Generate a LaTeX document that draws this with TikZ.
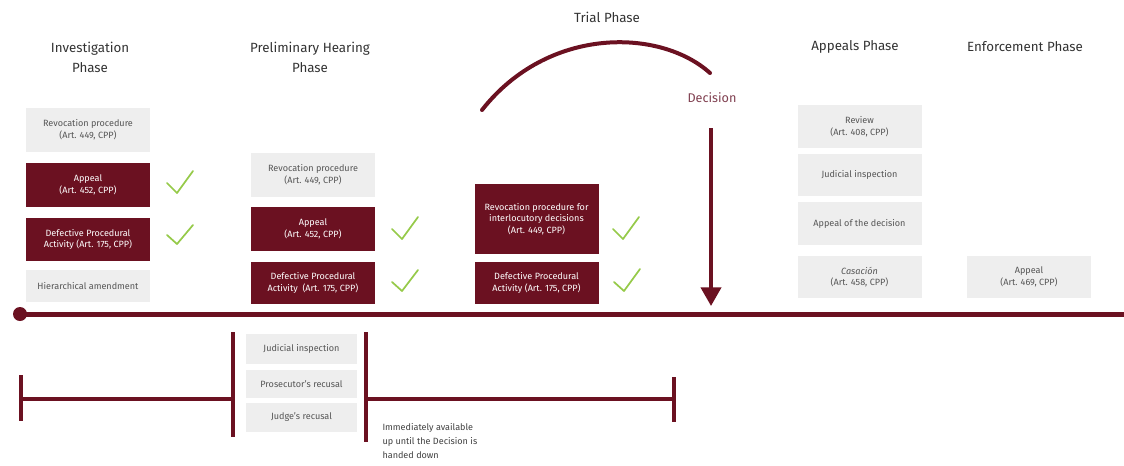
\documentclass[tikz,border=0pt]{standalone}
\usepackage{fontspec}
\setmainfont{Fira Sans}
\usetikzlibrary{arrows.meta}

\definecolor{wine}{RGB}{107,17,33}
\definecolor{boxgray}{RGB}{238,238,238}
\definecolor{okgreen}{RGB}{150,202,74}
\definecolor{txtgray}{RGB}{85,85,85}
\definecolor{decis}{RGB}{128,64,80}

\tikzset{every picture/.style={line width=0.75pt}}
\tikzset{
  lightbox/.style={fill=boxgray, text=txtgray, align=center, inner sep=0.75pt, minimum width=93pt, font=\fontsize{6.8}{8.8}\selectfont},
  darkbox/.style={fill=wine, text=white, align=center, inner sep=0.75pt, minimum width=93pt, font=\fontsize{6.8}{8.8}\selectfont},
  phase/.style={text=black!80, align=center, inner sep=0.75pt, font=\fontsize{10}{15}\selectfont},
  okline/.style={draw=okgreen, line width=1.3pt, line cap=round, line join=round},
  bar/.style={draw=wine, line width=3pt},
}

\begin{document}
\begin{tikzpicture}[x=0.75pt,y=0.75pt,yscale=-1,xscale=1]
\useasboundingbox (0,0) rectangle (1124,465);

% Phase titles
\draw (90,57) node [phase] (invph) {Investigation\\Phase};
\draw (310,57) node [phase] (preph) {Preliminary Hearing\\Phase};
\draw (607,17) node [phase] (triph) {Trial Phase};
\draw (855,47) node [phase] (appph) {Appeals Phase};
\draw (1025,47) node [phase] (enfph) {Enforcement Phase};

% Investigation column
\draw (88,130) node [lightbox, minimum height=33pt] (inrev) {Revocation procedure\\(Art. 449, CPP)};
\draw (88,185) node [darkbox, minimum height=33pt] (inapp) {Appeal\\(Art. 452, CPP)};
\draw (88,239.5) node [darkbox, minimum height=32.25pt] (indef) {Defective Procedural\\Activity (Art. 175, CPP)};
\draw (88,286) node [lightbox, minimum height=24pt] (inhier) {Hierarchical amendment};

% Preliminary hearing column
\draw (313,175) node [lightbox, minimum height=33pt] (prrev) {Revocation procedure\\(Art. 449, CPP)};
\draw (313,229) node [darkbox, minimum height=33pt] (prapp) {Appeal\\(Art. 452, CPP)};
\draw (313,283) node [darkbox, minimum height=31.5pt] (prdef) {Defective Procedural\\Activity\ \ (Art. 175, CPP)};

% Trial column
\draw (536.5,219) node [darkbox, minimum height=52.5pt] (trrev) {Revocation procedure for\\interlocutory decisions\\(Art. 449, CPP)};
\draw (536.5,283) node [darkbox, minimum height=31.5pt] (trdef) {Defective Procedural\\Activity (Art. 175, CPP)};

% Appeals column
\draw (859.5,126.5) node [lightbox, minimum height=32.25pt] (aprev) {Review\\(Art. 408, CPP)};
\draw (859.5,175) node [lightbox, minimum height=31.5pt] (apjud) {Judicial inspection};
\draw (859.5,223.5) node [lightbox, minimum height=32.25pt] (apdec) {Appeal of the decision};
\draw (859.5,277) node [lightbox, minimum height=31.5pt] (apcas) {\textit{Casación}\\(Art. 458, CPP)};

% Enforcement column
\draw (1029,277) node [lightbox, minimum height=31.5pt] (enapp) {Appeal\\(Art. 469, CPP)};

% Check marks
\draw [okline] (167,183) -- (177,193) -- (193,171);
\draw [okline] (167,235) -- (177,244) -- (193,225);
\draw [okline] (392,229) -- (402,239) -- (418,217);
\draw [okline] (392,282) -- (402,291) -- (418,270);
\draw [okline] (613,229) -- (623,239) -- (639,217);
\draw [okline] (614,282) -- (624,291) -- (640,269);

% Trial arc and decision
\draw [wine, line width=3pt, line cap=round] (482,110) .. controls (548,26) and (660,28) .. (710,73);
\draw (712,98) node [text=decis, inner sep=0.75pt, font=\fontsize{9.5}{11}\selectfont] (decision) {Decision};
\coordinate (dtop) at (711,128);
\coordinate (dbot) at (711,306);
\draw [wine, line width=3pt, -{Triangle[width=15pt,length=14pt]}] (dtop) -- (dbot);

% Main timeline
\draw (20,314) node [circle, fill=wine, minimum size=10.5pt, inner sep=0pt] (start) {};
\coordinate (tlend) at (1124,314);
\draw [wine, line width=3.75pt] (start.center) -- (tlend);

% Lower brackets
\coordinate (lb1) at (21,399);
\coordinate (lb2) at (233,399);
\coordinate (lb3) at (366,399);
\coordinate (lb4) at (674,399);
\draw [bar] (lb1) -- (lb2);
\draw [bar] (lb3) -- (lb4);
\draw [bar] (21,375) -- (21,421);
\draw [bar] (233,332) -- (233,437);
\draw [bar] (366,332) -- (366,442);
\draw [bar] (674,377) -- (674,422);

\draw (301.5,349) node [lightbox, minimum width=83.25pt, minimum height=22.5pt] (prjud) {Judicial inspection};
\draw (301.5,384) node [lightbox, minimum width=83.25pt, minimum height=21pt] (prpros) {Prosecutor's recusal};
\draw (301.5,417.5) node [lightbox, minimum width=83.25pt, minimum height=21.75pt] (prjudge) {Judge's recusal};

% Text Node
\draw (381,422) node [anchor=north west, inner sep=0.75pt, align=left, text=black!75, font=\fontsize{6.8}{10.5}\selectfont] (avail) {Immediately available\\up until the Decision is\\handed down};

\end{tikzpicture}
\end{document}
